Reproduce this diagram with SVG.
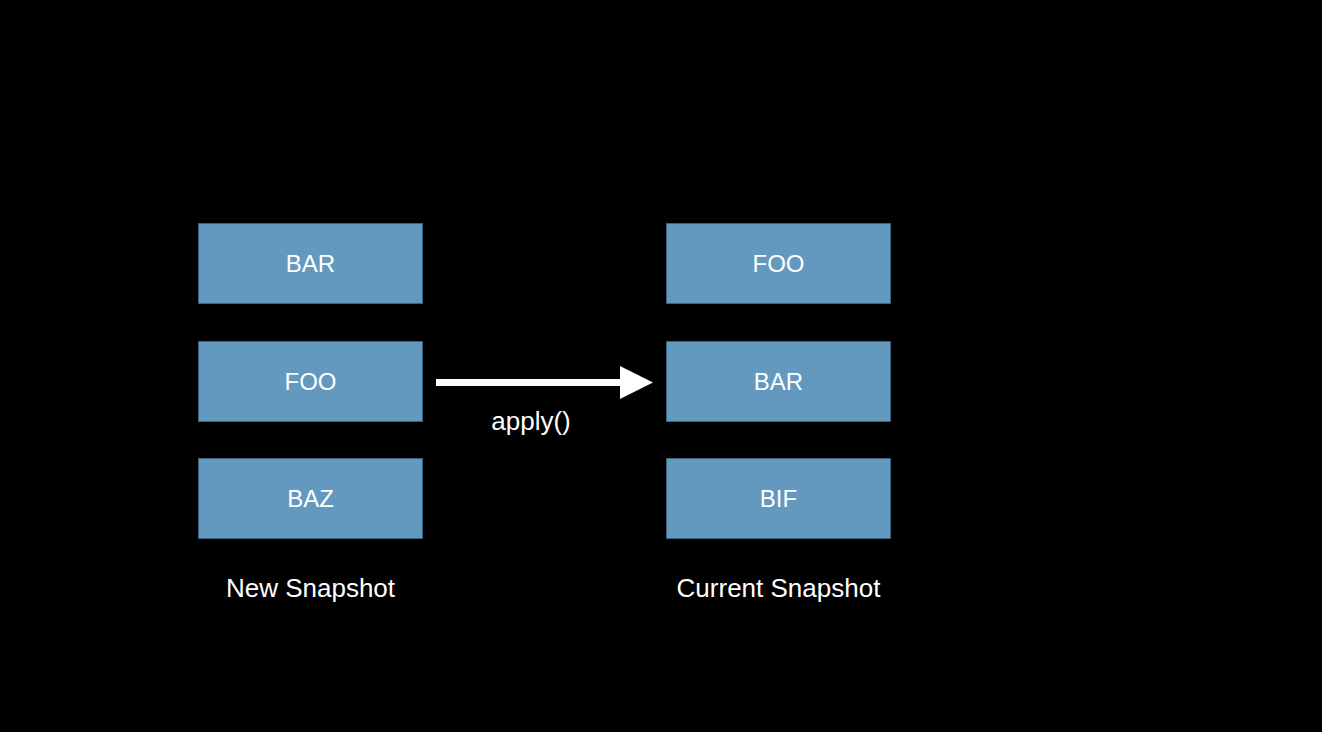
<svg xmlns="http://www.w3.org/2000/svg" width="1322" height="732" viewBox="0 0 1322 732">
<style>
.box{fill:#6398bf;stroke:#3d607d;stroke-width:1}
.lbl{font-family:"Liberation Sans",Arial,sans-serif;font-size:24px;fill:#ffffff;text-anchor:middle}
.cap{font-size:26px}
</style>
<rect width="1322" height="732" fill="#000"/>
<g id="new-bar"><rect class="box" x="198.5" y="223.5" width="224" height="80"/><text class="lbl" x="310.5" y="272">BAR</text></g>
<g id="new-foo"><rect class="box" x="198.5" y="341.5" width="224" height="80"/><text class="lbl" x="310.5" y="390">FOO</text></g>
<g id="new-baz"><rect class="box" x="198.5" y="458.5" width="224" height="80"/><text class="lbl" x="310.5" y="507">BAZ</text></g>
<g id="cur-foo"><rect class="box" x="666.5" y="223.5" width="224" height="80"/><text class="lbl" x="778.5" y="272">FOO</text></g>
<g id="cur-bar"><rect class="box" x="666.5" y="341.5" width="224" height="80"/><text class="lbl" x="778.5" y="390">BAR</text></g>
<g id="cur-bif"><rect class="box" x="666.5" y="458.5" width="224" height="80"/><text class="lbl" x="778.5" y="507">BIF</text></g>
<g id="captions">
<text class="lbl cap" x="310.5" y="597">New Snapshot</text>
<text class="lbl cap" x="778.5" y="597">Current Snapshot</text>
</g>
<g id="connectors">
<rect x="436" y="379" width="186" height="7" fill="#fff"/>
<polygon points="620,366 653,382.5 620,399" fill="#fff"/>
<text class="lbl cap" x="531" y="430">apply()</text>
</g>
</svg>
